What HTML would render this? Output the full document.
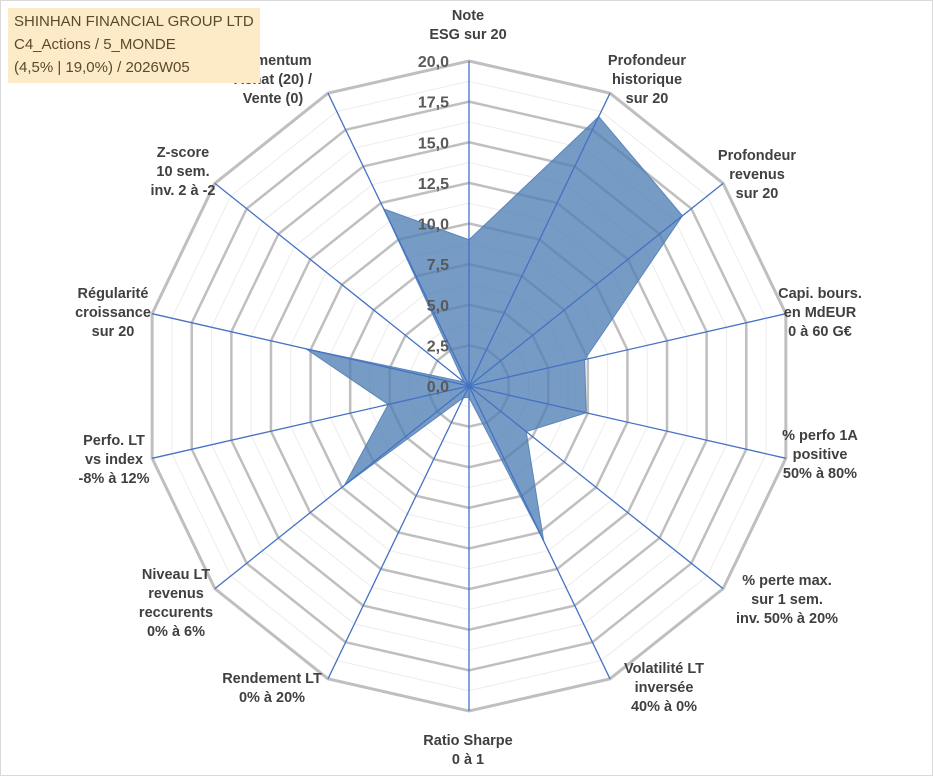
<!DOCTYPE html>
<html><head><meta charset="utf-8"><style>
body{margin:0;background:#fff;width:933px;height:776px;overflow:hidden;font-family:"Liberation Sans",sans-serif}
#frame{position:absolute;left:0;top:0;width:931px;height:774px;border:1px solid #d9d9d9}
#title{position:absolute;left:8px;top:8px;background:#fdebc8;color:#5a4a2a;font-size:15px;line-height:23px;padding:2px 6px 4px 6px}
svg text{font-family:"Liberation Sans",sans-serif}
</style></head><body>
<div id="frame"></div>
<svg id="chart" width="933" height="776" style="position:absolute;left:0;top:0"></svg>
<div id="title">SHINHAN FINANCIAL GROUP LTD<br>C4_Actions / 5_MONDE<br>(4,5% | 19,0%) / 2026W05</div>
<script>
const categories=["Note|ESG sur 20","Profondeur|historique|sur 20","Profondeur|revenus|sur 20","Capi. bours.|en MdEUR|0 à 60 G€","% perfo 1A|positive|50% à 80%","% perte max.|sur 1 sem.|inv. 50% à 20%","Volatilité LT|inversée|40% à 0%","Ratio Sharpe|0 à 1","Rendement LT|0% à 20%","Niveau LT|revenus|reccurents|0% à 6%","Perfo. LT|vs index|-8% à 12%","Régularité|croissance|sur 20","Z-score|10 sem.|inv. 2 à -2","Momentum|Achat (20) /|Vente (0)"];
const values=[9.0,18.4,16.8,7.3,7.4,4.5,10.6,0.7,0.8,9.8,5.1,10.3,0.4,12.1];
const ticks=[0,2.5,5,7.5,10,12.5,15,17.5,20];
const tickLabels=["0,0","2,5","5,0","7,5","10,0","12,5","15,0","17,5","20,0"];
const labelPos=[[468,20],[647,65],[757,160],[820,298],[820,440],[787,585],[664,673],[468,745],[272,683],[176,579],[114,445],[113,298],[183,157],[273,65]];
const cx=469,cy=386,R=325,maxV=20,N=categories.length;
const NS="http://www.w3.org/2000/svg",svg=document.getElementById('chart');
function ang(i){return i*2*Math.PI/N;}
function pt(i,v){const r=v/maxV*R;return [cx+r*Math.sin(ang(i)),cy-r*Math.cos(ang(i))];}
function mk(t,a){const e=document.createElementNS(NS,t);for(const k in a)e.setAttribute(k,a[k]);svg.appendChild(e);return e;}
// minor rings
for(let k=1;k<=16;k++){if(k%2===0)continue;const v=k*1.25;const e=mk('polygon',{points:categories.map((c,i)=>pt(i,v).join(',')).join(' '),fill:'none',stroke:'#ececec','stroke-width':1});

}
ticks.slice(1).forEach(v=>{const e=mk('polygon',{points:categories.map((c,i)=>pt(i,v).join(',')).join(' '),fill:'none',stroke:'#bfbfbf','stroke-width':v===20?3:2.5});

});
const poly=mk('polygon',{points:values.map((v,i)=>pt(i,v).join(',')).join(' '),fill:'#4f7fb4','fill-opacity':0.78,stroke:'#5b85ba','stroke-width':1});


categories.forEach((c,i)=>{const p=pt(i,maxV);const l=mk('line',{x1:cx,y1:cy,x2:p[0],y2:p[1],stroke:'#4472c4','stroke-width':1.3});


const lines=c.split('|');const t=mk('text',{x:labelPos[i][0],y:labelPos[i][1],'text-anchor':'middle','font-size':14.5,'font-weight':'bold',fill:'#404040'});


lines.forEach((s,j)=>{const ts=document.createElementNS(NS,'tspan');ts.setAttribute('x',labelPos[i][0]);ts.setAttribute('dy',j===0?0:19);ts.textContent=s;t.appendChild(ts);});});
ticks.forEach((v,k)=>{const y=cy-v/maxV*R;const t=mk('text',{x:449,y:y+6,'text-anchor':'end','font-size':16,'font-weight':'bold',fill:'#595959'});


t.textContent=tickLabels[k];});
</script>
</body></html>
